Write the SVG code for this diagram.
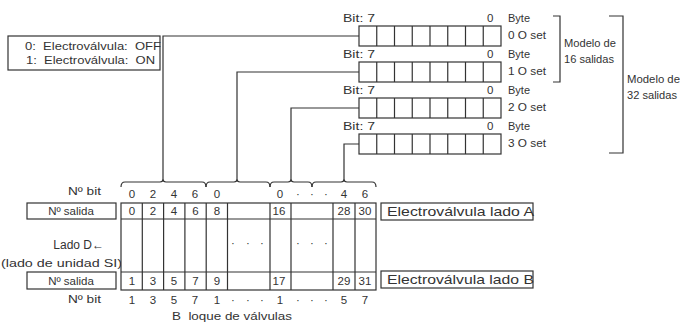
<svg xmlns="http://www.w3.org/2000/svg" width="680" height="326" viewBox="0 0 680 326">
<style>
text{font-family:"Liberation Sans",Arial,sans-serif;fill:#333;}
.t11{font-size:11.5px;}
.t10{font-size:11px;}
.t12{font-size:13.5px;}
.box{fill:#fff;stroke:#333;stroke-width:1.2;}
.ln{fill:none;stroke:#333;stroke-width:1.2;}
.c{text-anchor:middle;}
</style>
<rect width="680" height="326" fill="#fff"/>

<g id="legend">
<rect class="box" x="8" y="36" width="152" height="34"/>
<text class="t11" x="25" y="50" textLength="136" lengthAdjust="spacingAndGlyphs" xml:space="preserve">0:  Electroválvula:  OFF</text>
<text class="t11" x="26" y="64" textLength="129" lengthAdjust="spacingAndGlyphs" xml:space="preserve">1:  Electroválvula:  ON</text>
</g>

<g id="byte0">
<rect class="box" x="359" y="26" width="142" height="20"/>
<path class="ln" d="M376.75 26v20M394.5 26v20M412.25 26v20M430 26v20M447.75 26v20M465.5 26v20M483.25 26v20"/>
<text class="t11" x="343" y="22" textLength="32" lengthAdjust="spacingAndGlyphs">Bit: 7</text>
<text class="t11" x="487" y="22">0</text>
<text class="t10" x="508" y="22">Byte</text>
<text class="t10" x="508" y="39" textLength="38" lengthAdjust="spacingAndGlyphs">0 O set</text>
</g>
<g id="byte1">
<rect class="box" x="359" y="62" width="142" height="20"/>
<path class="ln" d="M376.75 62v20M394.5 62v20M412.25 62v20M430 62v20M447.75 62v20M465.5 62v20M483.25 62v20"/>
<text class="t11" x="343" y="58" textLength="32" lengthAdjust="spacingAndGlyphs">Bit: 7</text>
<text class="t11" x="487" y="58">0</text>
<text class="t10" x="508" y="58">Byte</text>
<text class="t10" x="508" y="75" textLength="38" lengthAdjust="spacingAndGlyphs">1 O set</text>
</g>
<g id="byte2">
<rect class="box" x="359" y="98" width="142" height="20"/>
<path class="ln" d="M376.75 98v20M394.5 98v20M412.25 98v20M430 98v20M447.75 98v20M465.5 98v20M483.25 98v20"/>
<text class="t11" x="343" y="94" textLength="32" lengthAdjust="spacingAndGlyphs">Bit: 7</text>
<text class="t11" x="487" y="94">0</text>
<text class="t10" x="508" y="94">Byte</text>
<text class="t10" x="508" y="111" textLength="38" lengthAdjust="spacingAndGlyphs">2 O set</text>
</g>
<g id="byte3">
<rect class="box" x="359" y="134" width="142" height="20"/>
<path class="ln" d="M376.75 134v20M394.5 134v20M412.25 134v20M430 134v20M447.75 134v20M465.5 134v20M483.25 134v20"/>
<text class="t11" x="343" y="130" textLength="32" lengthAdjust="spacingAndGlyphs">Bit: 7</text>
<text class="t11" x="487" y="130">0</text>
<text class="t10" x="508" y="130">Byte</text>
<text class="t10" x="508" y="147" textLength="38" lengthAdjust="spacingAndGlyphs">3 O set</text>
</g>

<g id="model16">
<path class="ln" d="M553 16H560V82H553"/>
<text class="t10" x="564" y="47" textLength="52" lengthAdjust="spacingAndGlyphs">Modelo de</text>
<text class="t10" x="564" y="63" textLength="50" lengthAdjust="spacingAndGlyphs">16 salidas</text>
</g>
<g id="model32">
<path class="ln" d="M609 16H623V153H609"/>
<text class="t10" x="627" y="83" textLength="53" lengthAdjust="spacingAndGlyphs">Modelo de</text>
<text class="t10" x="627" y="99" textLength="50" lengthAdjust="spacingAndGlyphs">32 salidas</text>
</g>

<g id="connectors">
<path class="ln" d="M359 36H163V179"/>
<path class="ln" d="M359 72H237V179"/>
<path class="ln" d="M359 108H291V179"/>
<path class="ln" d="M359 144H344V179"/>
<path class="ln" d="M121 187Q121 182 125 182H160Q163 182 163 179Q163 182 166 182H202Q206 182 206 187"/>
<path class="ln" d="M206 187Q206 182 210 182H234Q237 182 237 179Q237 182 240 182H266Q270 182 270 187"/>
<path class="ln" d="M270 187Q270 182 274 182H288Q291 182 291 179Q291 182 294 182H308Q312 182 312 187"/>
<path class="ln" d="M312 187Q312 182 316 182H341Q344 182 344 179Q344 182 347 182H372Q376 182 376 187"/>
</g>

<g id="bitrow-top">
<text class="t11" x="68" y="195" textLength="33" lengthAdjust="spacingAndGlyphs">Nº bit</text>
<text class="t11 c" x="132" y="198">0</text>
<text class="t11 c" x="153" y="198">2</text>
<text class="t11 c" x="174" y="198">4</text>
<text class="t11 c" x="195" y="198">6</text>
<text class="t11 c" x="217" y="198">0</text>
<text class="t11 c" x="280" y="198">0</text>
<text class="t11 c" x="298" y="198">·</text>
<text class="t11 c" x="312" y="198">·</text>
<text class="t11 c" x="326" y="198">·</text>
<text class="t11 c" x="344" y="198">4</text>
<text class="t11 c" x="365" y="198">6</text>
</g>

<g id="label-A">
<rect class="box" x="27" y="203" width="89" height="16"/>
<text class="t11 c" x="71" y="215">Nº salida</text>
</g>
<g id="label-B">
<rect class="box" x="27" y="272" width="89" height="17"/>
<text class="t11 c" x="71" y="285">Nº salida</text>
</g>
<g id="side">
<text x="104" y="249" font-size="12" text-anchor="end">Lado D←</text>
<text x="1" y="267" font-size="10" textLength="121" lengthAdjust="spacingAndGlyphs">(lado de unidad SI)</text>
</g>

<g id="valve-block">
<rect class="box" x="121" y="203" width="255" height="87"/>
<path class="ln" d="M121 219H376M121 272H376M142.3 203v87M163.6 203v87M184.9 203v87M206.2 203v87M227.5 203v87M270 203v87M291 203v87M333 203v87M355 203v87"/>
<text class="t11 c" x="132" y="215">0</text>
<text class="t11 c" x="153" y="215">2</text>
<text class="t11 c" x="174" y="215">4</text>
<text class="t11 c" x="195.5" y="215">6</text>
<text class="t11 c" x="217" y="215">8</text>
<text class="t11 c" x="279" y="215">16</text>
<text class="t11 c" x="344" y="215">28</text>
<text class="t11 c" x="365" y="215">30</text>
<text class="t11 c" x="233" y="247">·</text>
<text class="t11 c" x="248" y="247">·</text>
<text class="t11 c" x="262" y="247">·</text>
<text class="t11 c" x="298" y="247">·</text>
<text class="t11 c" x="312" y="247">·</text>
<text class="t11 c" x="326" y="247">·</text>
<text class="t11 c" x="132" y="285">1</text>
<text class="t11 c" x="153" y="285">3</text>
<text class="t11 c" x="174" y="285">5</text>
<text class="t11 c" x="195.5" y="285">7</text>
<text class="t11 c" x="217" y="285">9</text>
<text class="t11 c" x="279" y="285">17</text>
<text class="t11 c" x="344" y="285">29</text>
<text class="t11 c" x="365" y="285">31</text>
</g>

<g id="side-A">
<rect class="box" x="381" y="203" width="152" height="17"/>
<text class="t12" x="387" y="216" textLength="147" lengthAdjust="spacingAndGlyphs">Electroválvula lado A</text>
</g>
<g id="side-B">
<rect class="box" x="381" y="271" width="152" height="17"/>
<text class="t12" x="387" y="284" textLength="147" lengthAdjust="spacingAndGlyphs">Electroválvula lado B</text>
</g>

<g id="bitrow-bottom">
<text class="t11" x="68" y="303" textLength="33" lengthAdjust="spacingAndGlyphs">Nº bit</text>
<text class="t11 c" x="132" y="304">1</text>
<text class="t11 c" x="153" y="304">3</text>
<text class="t11 c" x="174" y="304">5</text>
<text class="t11 c" x="195" y="304">7</text>
<text class="t11 c" x="217" y="304">1</text>
<text class="t11 c" x="233" y="304">·</text>
<text class="t11 c" x="248" y="304">·</text>
<text class="t11 c" x="262" y="304">·</text>
<text class="t11 c" x="280" y="304">1</text>
<text class="t11 c" x="298" y="304">·</text>
<text class="t11 c" x="312" y="304">·</text>
<text class="t11 c" x="326" y="304">·</text>
<text class="t11 c" x="344" y="304">5</text>
<text class="t11 c" x="365" y="304">7</text>
<text class="t11" x="172" y="320" textLength="120" lengthAdjust="spacingAndGlyphs" xml:space="preserve">B  loque de válvulas</text>
</g>
</svg>
